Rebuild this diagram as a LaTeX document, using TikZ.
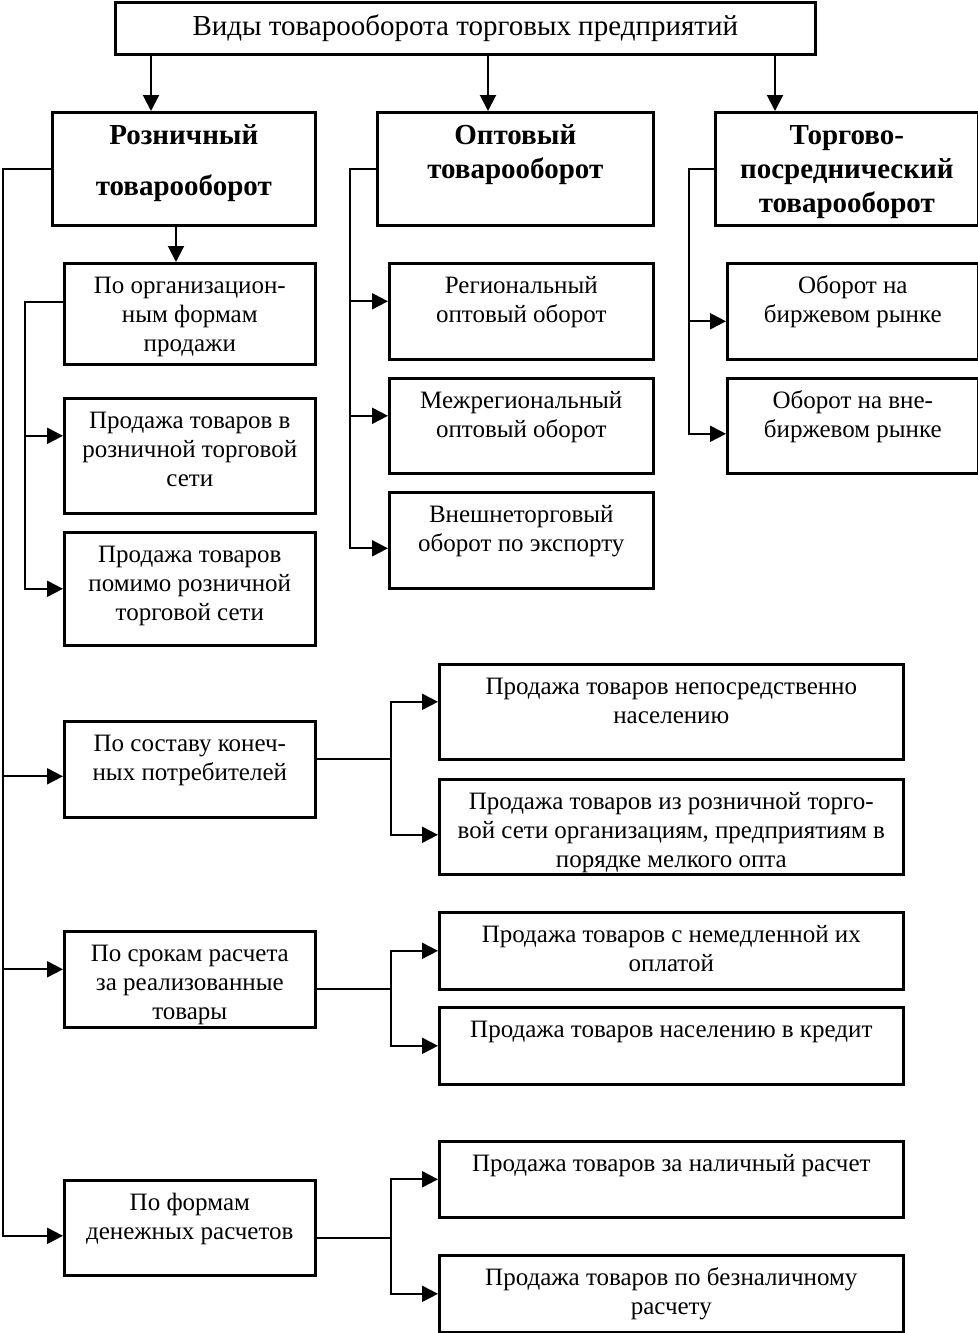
\documentclass[tikz,border=0pt]{standalone}
\usepackage{fontspec}
\setmainfont{Liberation Serif}
\usetikzlibrary{arrows.meta}

% text of a box, top aligned
\newcommand{\cell}[4][5pt]{\parbox[c][#2][t]{#3}{\centering\vspace*{#1}\strut#4}}

\tikzset{
  box/.style={draw, line width=1.3pt, inner sep=0pt, anchor=north west,
    font=\fontsize{12.5pt}{14.4pt}\selectfont},
  head/.style={box, font=\fontsize{14.5pt}{17pt}\selectfont\bfseries},
  arr/.style={line width=1pt, -{Triangle[length=8pt,width=8pt]}},
  line/.style={line width=1pt}
}

\begin{document}
\begin{tikzpicture}[x=0.5pt, y=-0.5pt]
  \useasboundingbox (0,0) rectangle (978,1333);

  \node[draw, line width=1.3pt, anchor=north west, minimum width=350pt, minimum height=25.75pt,
    inner sep=0pt, font=\fontsize{14.5pt}{17pt}\selectfont] (title) at (114,1.5)
    {Виды товарооборота торговых предприятий};

  % main kinds
  \node[head] (rozn) at (51,111) {\cell[4pt]{56.5pt}{131.5pt}{Розничный\\[8.5pt]товарооборот}};
  \node[head] (opt) at (376,111) {\cell[4pt]{56.5pt}{138pt}{Оптовый\\товарооборот}};
  \node[head] (torg) at (714,111) {\cell[4pt]{56.5pt}{131.5pt}{Торгово-\\посреднический\\товарооборот}};

  % retail
  \node[box] (org) at (63,262) {\cell{50.5pt}{125.5pt}{По организацион-\\ным формам\\продажи}};
  \node[box] (rset) at (63,397) {\cell{57.5pt}{125.5pt}{Продажа товаров в\\розничной торговой\\сети}};
  \node[box] (pom) at (63,531) {\cell{56.5pt}{125.5pt}{Продажа товаров\\помимо розничной\\торговой сети}};
  \node[box] (sost) at (63,720) {\cell{48pt}{125.5pt}{По составу конеч-\\ных потребителей}};
  \node[box] (srok) at (63,930) {\cell{48pt}{125.5pt}{По срокам расчета\\за реализованные\\товары}};
  \node[box] (form) at (63,1179) {\cell{47.5pt}{125.5pt}{По формам\\денежных расчетов}};

  \node[box] (nepo) at (438,663) {\cell{47.5pt}{232pt}{Продажа товаров непосредственно\\населению}};
  \node[box] (izr) at (438,778) {\cell{47.5pt}{232pt}{Продажа товаров из розничной торго-\\вой сети организациям, предприятиям в\\порядке мелкого опта}};
  \node[box] (nemed) at (438,911) {\cell{38.5pt}{232pt}{Продажа товаров с немедленной их\\оплатой}};
  \node[box] (kred) at (438,1006) {\cell{38.5pt}{232pt}{Продажа товаров населению в кредит}};
  \node[box] (nal) at (438,1140) {\cell{38pt}{232pt}{Продажа товаров за наличный расчет}};
  \node[box] (bezn) at (438,1254) {\cell{38.5pt}{232pt}{Продажа товаров по безналичному\\расчету}};

  % wholesale
  \node[box] (reg) at (388,262) {\cell{48pt}{132pt}{Региональный\\оптовый оборот}};
  \node[box] (mreg) at (388,377) {\cell{47.5pt}{132pt}{Межрегиональный\\оптовый оборот}};
  \node[box] (vnesh) at (388,491) {\cell{48pt}{132pt}{Внешнеторговый\\оборот по экспорту}};

  % intermediary
  \node[box] (birzh) at (726,262) {\cell{48pt}{125.5pt}{Оборот на\\биржевом рынке}};
  \node[box] (vneb) at (726,377) {\cell{47.5pt}{125.5pt}{Оборот на вне-\\биржевом рынке}};

  % arrows from the title
  \coordinate (a1) at ([xshift=50pt]rozn.north west);
  \coordinate (a2) at ([xshift=56pt]opt.north west);
  \coordinate (a3) at ([xshift=30.5pt]torg.north west);
  \coordinate (a4) at ([xshift=56.5pt]org.north west);
  \draw[arr] (title.south -| a1) -- (a1);
  \draw[arr] (title.south -| a2) -- (a2);
  \draw[arr] (title.south -| a3) -- (a3);
  \draw[arr] (rozn.south -| a4) -- (a4);

  % retail rails
  \draw[arr] ([yshift=6pt]org.west) -| ([xshift=-19pt]pom.west) -- (pom.west);
  \draw[arr] ([xshift=-19pt,yshift=10pt]rset.west) -- ([yshift=10pt]rset.west);
  \draw[arr] (rozn.west) -| ([xshift=-30pt,yshift=-4pt]form.west) -- ([yshift=-4pt]form.west);
  \draw[arr] ([xshift=-30pt,yshift=-3.5pt]sost.west) -- ([yshift=-3.5pt]sost.west);
  \draw[arr] ([xshift=-30pt,yshift=5pt]srok.west) -- ([yshift=5pt]srok.west);

  \coordinate (j1) at ([xshift=37pt,yshift=5pt]sost.east);
  \draw[line] ([yshift=5pt]sost.east) -- (j1);
  \draw[arr] (j1) |- ([yshift=5pt]nepo.west);
  \draw[arr] (j1) |- ([yshift=-4pt]izr.west);

  \coordinate (j2) at ([xshift=37pt,yshift=-5pt]srok.east);
  \draw[line] ([yshift=-5pt]srok.east) -- (j2);
  \draw[arr] (j2) |- (nemed.west);
  \draw[arr] (j2) |- (kred.west);

  \coordinate (j3) at ([xshift=37pt,yshift=-5pt]form.east);
  \draw[line] ([yshift=-5pt]form.east) -- (j3);
  \draw[arr] (j3) |- (nal.west);
  \draw[arr] (j3) |- (bezn.west);

  % wholesale rail
  \draw[arr] (opt.west) -| ([xshift=-19pt,yshift=-4pt]vnesh.west) -- ([yshift=-4pt]vnesh.west);
  \draw[arr] ([xshift=-19pt,yshift=5pt]reg.west) -- ([yshift=5pt]reg.west);
  \draw[arr] ([xshift=-19pt,yshift=5pt]mreg.west) -- ([yshift=5pt]mreg.west);

  % intermediary rail
  \draw[arr] (torg.west) -| ([xshift=-18.5pt,yshift=-4pt]vneb.west) -- ([yshift=-4pt]vneb.west);
  \draw[arr] ([xshift=-18.5pt,yshift=-5pt]birzh.west) -- ([yshift=-5pt]birzh.west);
\end{tikzpicture}
\end{document}
